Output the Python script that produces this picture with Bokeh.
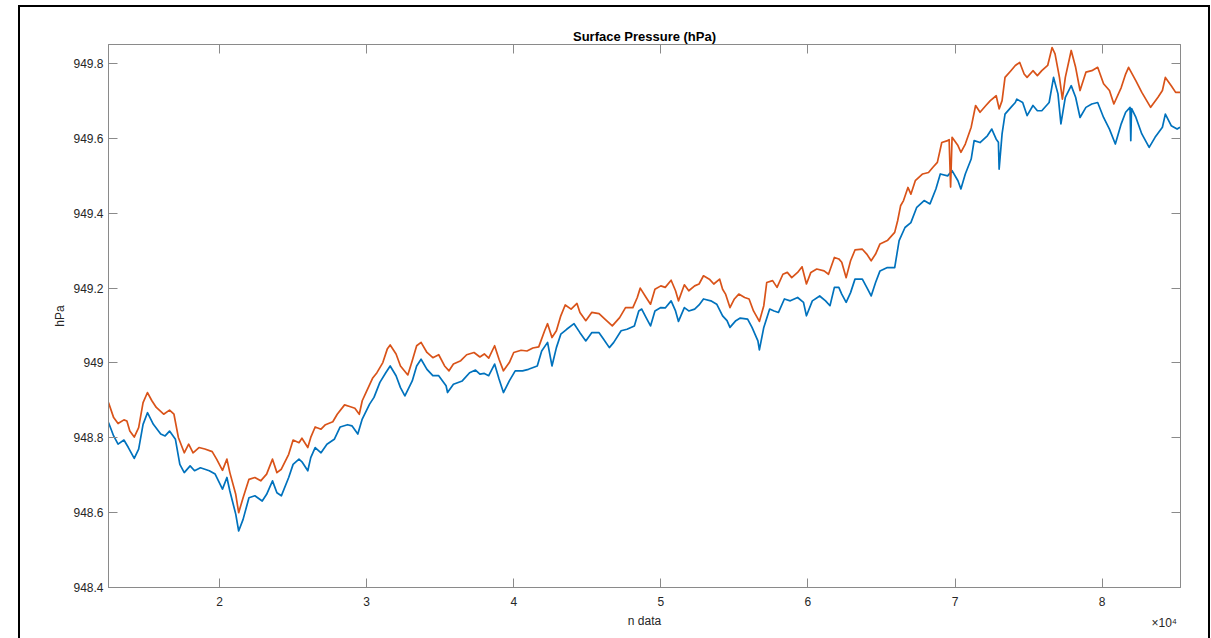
from bokeh.plotting import figure
from bokeh.models import LinearAxis, FixedTicker, Range1d, Label, InlineStyleSheet
from bokeh.embed import file_html
from bokeh.resources import INLINE

# Sample index (n data) and surface pressure (hPa) for the two sensors
n_sensor_a = [
    12450, 12800, 13100, 13500, 13700, 13900, 14200, 14500, 14800, 15100,
    15400, 15700, 16200, 16600, 16900, 17200, 17600, 17900, 18200, 18600,
    19000, 19500, 19800, 20200, 20500, 20700, 21100, 21300, 21600, 22000,
    22400, 22800, 23200, 23600, 23900, 24200, 24700, 25000, 25400, 25600,
    26000, 26200, 26500, 26900, 27200, 27700, 28000, 28500, 28900, 29200,
    29500, 29700, 30000, 30400, 30700, 31100, 31400, 31600, 32000, 32300,
    32800, 33100, 33400, 33700, 34100, 34500, 34900, 35300, 35600, 35900,
    36400, 36800, 37300, 37700, 38000, 38300, 38700, 39000, 39300, 39700,
    40000, 40500, 40900, 41300, 41700, 42100, 42300, 42600, 42900, 43200,
    43500, 43900, 44300, 44500, 44900, 45300, 45800, 46200, 46700, 47200,
    47600, 48100, 48400, 48600, 49000, 49300, 49600, 50000, 50300, 50700,
    51000, 51200, 51600, 51900, 52300, 52600, 52900, 53300, 53600, 54000,
    54200, 54400, 54700, 55000, 55300, 55700, 56000, 56300, 56700, 57000,
    57200, 57600, 57900, 58300, 58600, 58900, 59300, 59600, 59900, 60200,
    60600, 61100, 61400, 61800, 62100, 62300, 62600, 62900, 63200, 63700,
    64000, 64300, 64600, 64900, 65400, 65900, 66100, 66300, 66500, 66800,
    67000, 67300, 67800, 68200, 68500, 68800, 69100, 69500, 69600, 69700,
    69800, 70200, 70400, 70700, 71100, 71400, 71700, 72100, 72400, 72800,
    73000, 73200, 73400, 73800, 74100, 74400, 74700, 74900, 75300, 75600,
    75900, 76300, 76600, 76800, 77100, 77300, 77500, 77900, 78200, 78500,
    78900, 79300, 79700, 80100, 80500, 80800, 81300, 81600, 81800, 82300,
    82700, 83300, 83800, 84100, 84300, 84700, 85000, 85300,
]
p_sensor_a = [
    948.894, 948.854, 948.838, 948.848, 948.845, 948.818, 948.802, 948.827, 948.894, 948.921,
    948.899, 948.881, 948.863, 948.874, 948.863, 948.801, 948.760, 948.783, 948.760, 948.774,
    948.770, 948.763, 948.743, 948.713, 948.743, 948.707, 948.649, 948.600, 948.640, 948.689,
    948.694, 948.685, 948.703, 948.743, 948.707, 948.716, 948.756, 948.794, 948.787, 948.799,
    948.774, 948.801, 948.829, 948.823, 948.835, 948.843, 948.863, 948.888, 948.883, 948.879,
    948.863, 948.899, 948.925, 948.959, 948.974, 949.001, 949.037, 949.048, 949.024, 948.992,
    948.968, 949.006, 949.046, 949.055, 949.028, 949.014, 949.022, 948.992, 948.979, 948.997,
    949.006, 949.022, 949.028, 949.016, 949.024, 949.013, 949.046, 949.010, 948.979, 949.001,
    949.028, 949.034, 949.032, 949.040, 949.043, 949.086, 949.105, 949.068, 949.086, 949.126,
    949.155, 949.144, 949.159, 949.135, 949.113, 949.135, 949.132, 949.117, 949.099, 949.121,
    949.148, 949.148, 949.175, 949.200, 949.175, 949.157, 949.197, 949.206, 949.202, 949.221,
    949.193, 949.166, 949.209, 949.193, 949.206, 949.211, 949.233, 949.224, 949.211, 949.224,
    949.197, 949.184, 949.148, 949.171, 949.184, 949.175, 949.171, 949.139, 949.111, 949.153,
    949.215, 949.220, 949.202, 949.237, 949.242, 949.228, 949.242, 949.257, 949.211, 949.242,
    949.251, 949.246, 949.237, 949.282, 949.278, 949.269, 949.228, 949.273, 949.302, 949.304,
    949.291, 949.273, 949.291, 949.318, 949.327, 949.349, 949.380, 949.420, 949.434, 949.469,
    949.451, 949.487, 949.505, 949.509, 949.523, 949.536, 949.589, 949.594, 949.597, 949.470,
    949.603, 949.581, 949.563, 949.585, 949.630, 949.688, 949.670, 949.688, 949.701, 949.714,
    949.679, 949.701, 949.763, 949.781, 949.795, 949.803, 949.772, 949.763, 949.781, 949.768,
    949.781, 949.795, 949.843, 949.826, 949.763, 949.705, 949.763, 949.835, 949.790, 949.728,
    949.777, 949.781, 949.790, 949.746, 949.728, 949.692, 949.736, 949.772, 949.790, 949.754,
    949.723, 949.683, 949.710, 949.728, 949.763, 949.741, 949.723, 949.723,
]

n_sensor_b = [
    12450, 12800, 13100, 13500, 13800, 14200, 14500, 14800, 15100, 15500,
    16000, 16300, 16600, 17000, 17300, 17600, 18000, 18300, 18700, 19300,
    19700, 20200, 20500, 20700, 21100, 21300, 21600, 22000, 22400, 22900,
    23200, 23600, 23900, 24200, 24700, 25000, 25400, 25600, 26000, 26200,
    26500, 26900, 27300, 27800, 28200, 28700, 29000, 29400, 29700, 30200,
    30500, 30900, 31300, 31600, 32000, 32300, 32600, 33100, 33400, 33700,
    34100, 34500, 34900, 35400, 35500, 35900, 36500, 37000, 37400, 37700,
    38000, 38300, 38700, 39000, 39300, 39700, 40100, 40600, 41000, 41600,
    41900, 42300, 42600, 42900, 43200, 43600, 44100, 44500, 44900, 45300,
    45800, 46100, 46500, 46800, 47300, 47700, 48200, 48500, 48700, 49000,
    49300, 49600, 50000, 50300, 50700, 51000, 51200, 51600, 51900, 52300,
    52600, 52900, 53400, 53800, 54200, 54500, 54700, 55100, 55400, 55900,
    56200, 56600, 56700, 57000, 57400, 57700, 58000, 58400, 58800, 59300,
    59700, 59900, 60300, 60800, 61200, 61500, 61800, 62100, 62300, 62600,
    62900, 63200, 63700, 64000, 64300, 64600, 64900, 65400, 65900, 66200,
    66600, 67000, 67400, 67900, 68300, 68700, 69000, 69500, 69800, 70200,
    70400, 70700, 71100, 71300, 71700, 72200, 72500, 72800, 72950, 73000,
    73200, 73400, 73800, 74100, 74200, 74600, 74900, 75300, 75600, 75900,
    76400, 76700, 77000, 77200, 77500, 77900, 78200, 78500, 78900, 79300,
    79700, 80100, 80500, 80900, 81300, 81600, 81900, 81950, 82000, 82300,
    82700, 83200, 83600, 84100, 84300, 84700, 85100, 85300,
]
p_sensor_b = [
    948.841, 948.805, 948.783, 948.794, 948.774, 948.745, 948.770, 948.836, 948.867, 948.836,
    948.810, 948.805, 948.818, 948.796, 948.729, 948.707, 948.725, 948.712, 948.720, 948.712,
    948.703, 948.663, 948.694, 948.658, 948.596, 948.551, 948.582, 948.640, 948.645, 948.631,
    948.649, 948.685, 948.653, 948.645, 948.694, 948.729, 948.743, 948.736, 948.712, 948.747,
    948.774, 948.760, 948.783, 948.796, 948.829, 948.835, 948.832, 948.810, 948.850, 948.890,
    948.908, 948.948, 948.974, 948.992, 948.966, 948.934, 948.912, 948.952, 948.992, 949.010,
    948.983, 948.966, 948.966, 948.939, 948.921, 948.943, 948.952, 948.974, 948.981, 948.970,
    948.972, 948.966, 948.997, 948.957, 948.921, 948.952, 948.979, 948.979, 948.983, 948.992,
    949.032, 949.055, 948.992, 949.041, 949.077, 949.090, 949.105, 949.081, 949.059, 949.081,
    949.081, 949.064, 949.041, 949.055, 949.086, 949.090, 949.099, 949.139, 949.144, 949.121,
    949.099, 949.139, 949.148, 949.147, 949.166, 949.139, 949.111, 949.148, 949.139, 949.144,
    949.155, 949.171, 949.166, 949.157, 949.126, 949.113, 949.095, 949.113, 949.120, 949.117,
    949.095, 949.059, 949.035, 949.095, 949.144, 949.139, 949.135, 949.171, 949.166, 949.175,
    949.162, 949.126, 949.166, 949.179, 949.166, 949.153, 949.202, 949.202, 949.184, 949.162,
    949.188, 949.224, 949.224, 949.202, 949.179, 949.215, 949.246, 949.255, 949.255, 949.327,
    949.362, 949.375, 949.416, 949.434, 949.425, 949.465, 949.505, 949.500, 949.514, 949.487,
    949.465, 949.505, 949.545, 949.594, 949.589, 949.607, 949.625, 949.598, 949.590, 949.518,
    949.612, 949.665, 949.683, 949.696, 949.705, 949.696, 949.661, 949.688, 949.674, 949.674,
    949.696, 949.763, 949.719, 949.639, 949.710, 949.741, 949.710, 949.656, 949.683, 949.692,
    949.696, 949.656, 949.625, 949.585, 949.639, 949.670, 949.683, 949.594, 949.680, 949.656,
    949.612, 949.576, 949.603, 949.630, 949.665, 949.634, 949.625, 949.630,
]

# Axis limits, ticks and tick labels (x labels are in units of 10^4)
x_limits = [12450, 85330]
y_limits = [948.4, 949.851]
x_ticks = [20000, 30000, 40000, 50000, 60000, 70000, 80000]
x_tick_labels = ["2", "3", "4", "5", "6", "7", "8"]
y_ticks = [948.4, 948.6, 948.8, 949.0, 949.2, 949.4, 949.6, 949.8]
y_tick_labels = ["948.4", "948.6", "948.8", "949", "949.2", "949.4", "949.6", "949.8"]

FONT = "Liberation Sans"
AXIS_GRAY = "#8a8a8a"
TEXT_DARK = "#262626"
BLUE = "#0072BD"
ORANGE = "#D95319"

p = figure(
    width=1211, height=638,
    output_backend="svg", toolbar_location=None,
    x_range=Range1d(*x_limits), y_range=Range1d(*y_limits),
    min_border_left=108, min_border_right=31,
    min_border_top=44, min_border_bottom=51,
    background_fill_color="white", border_fill_color="white",
)
p.grid.visible = False
p.outline_line_color = AXIS_GRAY

p.title.text = "Surface Pressure (hPa)"
p.title.align = "center"
p.title.text_font = FONT
p.title.text_font_size = "13px"
p.title.text_font_style = "bold"
p.title.text_color = "#000000"
p.title.standoff = 2


def style_axis(ax, ticks, labels=None):
    ax.ticker = FixedTicker(ticks=ticks)
    ax.axis_line_color = AXIS_GRAY
    ax.major_tick_line_color = AXIS_GRAY
    ax.major_tick_in = 9
    ax.major_tick_out = 0
    ax.minor_tick_line_color = None
    ax.major_label_text_font = FONT
    ax.major_label_text_color = TEXT_DARK
    ax.major_label_text_font_size = "12px"
    ax.axis_label_text_font = FONT
    ax.axis_label_text_color = TEXT_DARK
    ax.axis_label_text_font_size = "12px"
    ax.axis_label_text_font_style = "normal"
    if labels is None:
        # mirrored box edge: ticks only
        ax.major_label_overrides = {t: "" for t in ticks}
        ax.major_label_standoff = 0
    else:
        ax.major_label_overrides = dict(zip(ticks, labels))


xa = p.xaxis[0]
style_axis(xa, x_ticks, x_tick_labels)
xa.axis_label = "n data"
xa.major_label_standoff = 9
xa.axis_label_standoff = 5

ya = p.yaxis[0]
style_axis(ya, y_ticks, y_tick_labels)
ya.axis_label = "hPa"
ya.major_label_standoff = 5
ya.axis_label_standoff = 3

top_axis = LinearAxis()
style_axis(top_axis, x_ticks)
p.add_layout(top_axis, "above")

right_axis = LinearAxis()
style_axis(right_axis, y_ticks)
p.add_layout(right_axis, "right")

p.line(n_sensor_b, p_sensor_b, line_color=BLUE, line_width=1.7, line_join="round")
p.line(n_sensor_a, p_sensor_a, line_color=ORANGE, line_width=1.7, line_join="round")

# Exponent note for the x axis; kept in the right-hand panel and drawn below the frame corner
p.add_layout(Label(x=-29, y=-35, x_units="screen", y_units="screen", text="\u00d710\u2074",
                   text_font=FONT, text_font_size="12px", text_color=TEXT_DARK,
                   text_baseline="alphabetic"), "right")

# Thin black border around the figure area
p.stylesheets = [InlineStyleSheet(css="""
:host { position: relative; }
:host::after {
  content: "";
  position: absolute;
  left: 18px; top: 5px;
  width: 1192px; height: 700px;
  border: 2px solid #000;
  box-sizing: border-box;
  pointer-events: none;
}
""")]

open("out.html", "w").write(file_html(p, INLINE))
